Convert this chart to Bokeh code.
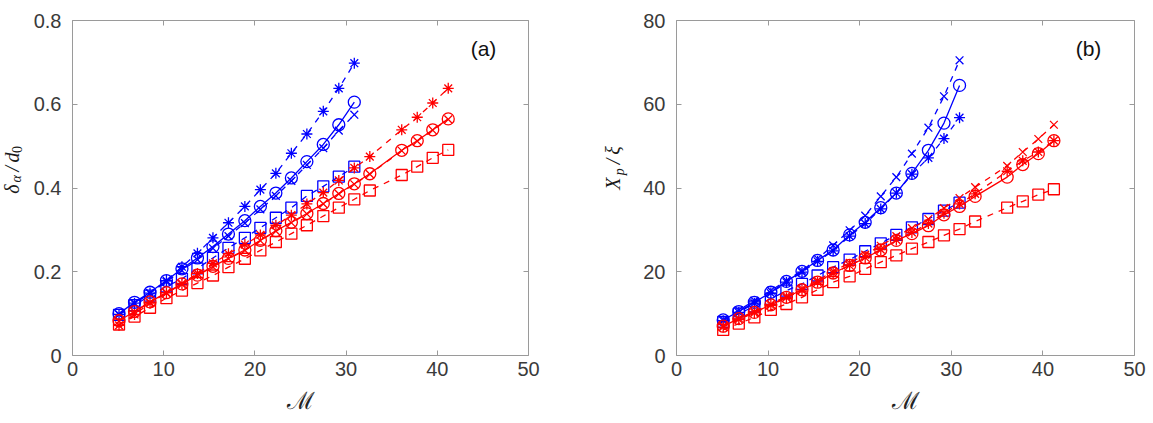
import math
from bokeh.plotting import figure
from bokeh.layouts import row
from bokeh.models import Range1d, FixedTicker, LinearAxis, Label, CustomJSTickFormatter
from bokeh.embed import file_html
from bokeh.resources import INLINE
from bokeh.core.properties import value

# ---------------- data ----------------
M_blue = [5.1, 6.8, 8.5, 10.3, 12.0, 13.7, 15.4, 17.1, 18.9, 20.6, 22.3, 24.0, 25.7, 27.5, 29.2, 30.9]
M_red = [5.1, 6.8, 8.5, 10.3, 12.0, 13.7, 15.4, 17.1, 18.9, 20.6, 22.3, 24.0, 25.7, 27.5, 29.2, 30.9,
         32.6, 36.1, 37.8, 39.5, 41.2]

# panel (a): delta_alpha / d0
a_blue_star = [0.098, 0.125, 0.149, 0.179, 0.212, 0.244, 0.281, 0.317, 0.356, 0.396, 0.435, 0.483, 0.529, 0.583, 0.638, 0.698]
a_blue_circ = [0.100, 0.127, 0.151, 0.179, 0.207, 0.233, 0.260, 0.290, 0.322, 0.356, 0.388, 0.424, 0.463, 0.504, 0.551, 0.605]
a_blue_x = [0.098, 0.124, 0.149, 0.176, 0.203, 0.229, 0.256, 0.285, 0.316, 0.349, 0.381, 0.417, 0.455, 0.495, 0.537, 0.575]
a_blue_sq = [0.097, 0.120, 0.143, 0.165, 0.183, 0.208, 0.233, 0.257, 0.281, 0.305, 0.329, 0.353, 0.381, 0.404, 0.427, 0.451]

a_red_star = [0.072, 0.098, 0.125, 0.150, 0.172, 0.196, 0.220, 0.243, 0.265, 0.288, 0.311, 0.335, 0.362, 0.389, 0.418,
              0.448, 0.475, 0.539, 0.569, 0.603, 0.638]
a_red_circ = [0.083, 0.105, 0.128, 0.150, 0.171, 0.192, 0.213, 0.232, 0.252, 0.275, 0.298, 0.318, 0.339, 0.363, 0.387,
              0.410, 0.434, 0.490, 0.513, 0.539, 0.565]
a_red_x = [0.082, 0.104, 0.127, 0.149, 0.170, 0.191, 0.212, 0.231, 0.251, 0.274, 0.297, 0.317, 0.338, 0.362, 0.386,
           0.409, 0.433, 0.489, 0.512, 0.538, 0.564]
a_red_sq = [0.074, 0.093, 0.114, 0.137, 0.155, 0.173, 0.191, 0.211, 0.231, 0.251, 0.271, 0.291, 0.311, 0.333, 0.353,
            0.373, 0.394, 0.431, 0.451, 0.472, 0.491]

# panel (b): X_p / xi
b_blue_x = [8.6, 10.8, 13.1, 15.5, 17.9, 20.3, 23.1, 26.3, 29.9, 33.4, 38.0, 42.6, 48.2, 54.4, 61.9, 70.5]
b_blue_circ = [8.5, 10.5, 12.7, 15.1, 17.7, 20.1, 22.7, 25.2, 28.8, 31.8, 35.3, 38.8, 43.5, 49.0, 55.5, 64.5]
b_blue_star = [8.3, 10.3, 12.5, 14.9, 17.5, 19.9, 22.5, 25.0, 28.5, 31.5, 35.0, 38.8, 43.3, 47.2, 51.8, 56.8]
b_blue_sq = [8.0, 10.0, 11.7, 13.5, 15.5, 17.1, 19.1, 21.1, 22.9, 24.9, 26.8, 28.8, 30.6, 32.6, 34.6, 36.5]

b_red_x = [7.1, 8.9, 10.5, 12.3, 14.2, 16.0, 17.9, 20.1, 22.1, 24.1, 26.2, 28.5, 30.4, 32.6, 35.2, 37.6,
           40.2, 45.3, 48.6, 51.7, 55.1]
b_red_circ = [7.0, 8.8, 10.3, 12.1, 13.9, 15.7, 17.5, 19.7, 21.5, 23.3, 25.2, 27.5, 29.1, 31.0, 33.6, 35.6,
              38.0, 42.6, 45.6, 48.2, 51.3]
b_red_star = [6.8, 8.6, 10.2, 12.0, 13.8, 15.6, 17.5, 19.6, 21.5, 23.4, 25.3, 27.6, 29.4, 31.5, 34.0, 36.2,
              38.6, 44.0, 46.5, 48.6, 51.3]
b_red_sq = [6.1, 7.6, 9.1, 10.9, 12.3, 13.9, 15.7, 17.5, 18.9, 20.7, 22.3, 23.9, 25.5, 27.1, 28.7, 30.2,
            32.0, 35.3, 36.8, 38.4, 39.7]

x_ticks = [0, 10, 20, 30, 40, 50]
a_yticks = [0, 0.2, 0.4, 0.6, 0.8]
a_ylabels = ["0", "0.2", "0.4", "0.6", "0.8"]
b_yticks = [0, 20, 40, 60, 80]
b_ylabels = ["0", "20", "40", "60", "80"]

# ---------------- style ----------------
BLUE = "#0000ff"
RED = "#ff0000"
AX = "#9a9a9a"
TXT = "#3a3a3a"
TICK_FONT = "Liberation Sans"
MATH_FONT = "Liberation Serif"
H = 423
FH = 335
TOP, BOTTOM = 20, 68


def blank_axis(ticks, loc, p):
    ax = LinearAxis(ticker=FixedTicker(ticks=ticks),
                    formatter=CustomJSTickFormatter(code="return ''"))
    ax.axis_line_color = AX
    ax.major_tick_line_color = AX
    ax.major_tick_in = 5
    ax.major_tick_out = 0
    ax.minor_tick_line_color = None
    ax.major_label_standoff = 0
    p.add_layout(ax, loc)


def make_fig(ymax, yticks, ylabels, left, right, fw):
    p = figure(frame_width=fw, frame_height=FH,
               x_range=Range1d(0, 50), y_range=Range1d(0, ymax),
               output_backend="svg", toolbar_location=None,
               min_border_left=left, min_border_right=right,
               min_border_top=TOP, min_border_bottom=BOTTOM,
               background_fill_color="white", border_fill_color="white",
               outline_line_color=None)
    p.grid.visible = False
    for ax in (p.xaxis[0], p.yaxis[0]):
        ax.axis_line_color = AX
        ax.major_tick_line_color = AX
        ax.major_tick_in = 5
        ax.major_tick_out = 0
        ax.minor_tick_line_color = None
        ax.major_label_text_font = TICK_FONT
        ax.major_label_text_font_size = "20px"
        ax.major_label_text_color = TXT
    p.xaxis.ticker = FixedTicker(ticks=x_ticks)
    p.xaxis.major_label_overrides = {t: str(t) for t in x_ticks}
    p.xaxis.major_label_standoff = 6
    p.yaxis.ticker = FixedTicker(ticks=yticks)
    p.yaxis.major_label_overrides = dict(zip(yticks, ylabels))
    p.yaxis.major_label_standoff = 11
    p.xaxis.axis_label = "\u2133"
    p.xaxis.axis_label_text_font = "DejaVu Serif"
    p.xaxis.axis_label_text_font_style = "normal"
    p.xaxis.axis_label_text_font_size = "24px"
    p.xaxis.axis_label_text_color = "#222222"
    p.xaxis.axis_label_standoff = 8
    blank_axis(x_ticks, "above", p)
    blank_axis(yticks, "right", p)
    return p


def series(p, xs, ys, color, marker, dash, size):
    p.line(xs, ys, line_color=color, line_width=1.3, line_dash=dash)
    p.scatter(xs, ys, marker=marker, size=size, line_color=color, fill_color=None, line_width=1.3)


def px2data(px, py, fw, ymax):
    return (px / fw * 50.0, (TOP + FH - py) / FH * ymax)


def add_tag(p, txt, px, py, fw, ymax):
    # px measured from the frame's left edge, py from the top of the canvas
    x, y = px2data(px, py, fw, ymax)
    p.add_layout(Label(x=x, y=y, text=txt, text_font="Liberation Sans", text_font_size="21px",
                       text_color="#111111", text_align="center", text_baseline="middle"))


def label_fig(w, pieces):
    f = figure(width=w, height=H, x_range=Range1d(0, w), y_range=Range1d(0, H),
               output_backend="svg", toolbar_location=None, min_border=0,
               x_axis_location=None, y_axis_location=None, outline_line_color=None,
               background_fill_color="white", border_fill_color="white")
    f.grid.visible = False
    for txt, x, y, sz, style in pieces:
        f.text(x=[x], y=[H - y], text=[txt], angle=math.pi / 2,
               text_font=value(MATH_FONT), text_font_size=f"{sz}px", text_font_style=style,
               text_color="#1a1a1a", text_align="center", text_baseline="middle")
    return f


# ---------------- panel (a) ----------------
FWA = 456
pa = make_fig(0.8, a_yticks, a_ylabels, 40, 74, FWA)
series(pa, M_blue, a_blue_sq, BLUE, "square", "dashed", 11)
series(pa, M_blue, a_blue_x, BLUE, "x", "dashed", 11)
series(pa, M_blue, a_blue_circ, BLUE, "circle", "solid", 12)
series(pa, M_blue, a_blue_star, BLUE, "asterisk", "dashed", 11)
series(pa, M_red, a_red_sq, RED, "square", "dashed", 11)
series(pa, M_red, a_red_x, RED, "x", "dashed", 11)
series(pa, M_red, a_red_circ, RED, "circle", "solid", 12)
series(pa, M_red, a_red_star, RED, "asterisk", "dashed", 11)
add_tag(pa, "(a)", 481 - 70, 48, FWA, 0.8)

lab_a = label_fig(30, [("\u03b4", 11, 213, 20, "italic"), ("\u03b1", 16, 200, 14, "italic"),
                       ("/", 11, 187, 20, "italic"), ("d", 11, 173, 20, "italic"),
                       ("0", 16, 163, 14, "normal")])

# ---------------- panel (b) ----------------
FWB = 458
pb = make_fig(80, b_yticks, b_ylabels, 38, 21, FWB)
series(pb, M_blue, b_blue_sq, BLUE, "square", "dashed", 11)
series(pb, M_blue, b_blue_star, BLUE, "asterisk", "dashed", 11)
series(pb, M_blue, b_blue_circ, BLUE, "circle", "solid", 12)
series(pb, M_blue, b_blue_x, BLUE, "x", "dashed", 11)
series(pb, M_red, b_red_sq, RED, "square", "dashed", 11)
series(pb, M_red, b_red_star, RED, "asterisk", "dashed", 11)
series(pb, M_red, b_red_circ, RED, "circle", "solid", 12)
series(pb, M_red, b_red_x, RED, "x", "dashed", 11)
add_tag(pb, "(b)", 1086 - 674, 48, FWB, 80)

lab_b = label_fig(36, [("X", 10, 206, 20, "italic"), ("p", 17, 191, 14, "italic"),
                       ("/", 10, 178, 20, "italic"), ("\u03be", 10, 164, 20, "italic")])

layout = row(lab_a, pa, lab_b, pb)
open("out.html", "w").write(file_html(layout, INLINE))
